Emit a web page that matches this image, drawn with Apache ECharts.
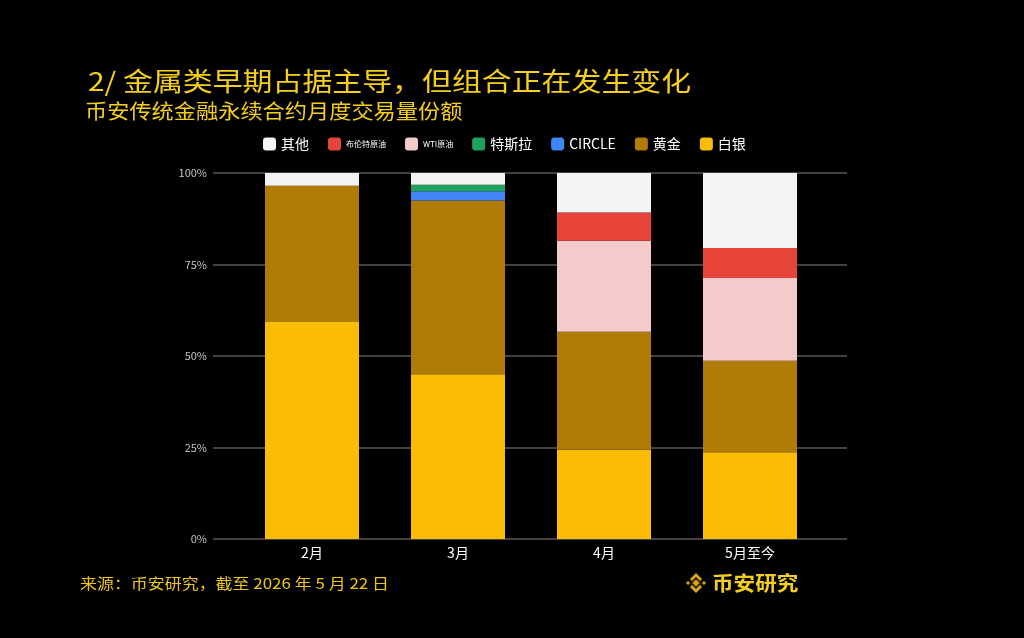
<!DOCTYPE html>
<html lang="zh">
<head>
    <meta charset="UTF-8">
    <script src="https://cdn.jsdelivr.net/npm/echarts@6/dist/echarts.min.js"></script>
    <title>币安传统金融永续合约月度交易量份额</title>
    <style>
        html, body { margin: 0; background: #000; }
        #myChart { width: 1024px; height: 638px; }
    </style>
</head>
<body>
    <div id="myChart"></div>
    <script>
        // data (share of monthly volume, %)
        var months = ['2月', '3月', '4月', '5月至今'];
        var silver = [59.3, 45.0, 24.4, 23.7];
        var gold = [37.2, 47.5, 32.2, 25.0];
        var circle = [0, 2.5, 0, 0];
        var tesla = [0, 1.8, 0, 0];
        var wti = [0, 0, 24.9, 22.6];
        var brent = [0, 0, 7.7, 8.2];
        var other = [3.5, 3.2, 10.8, 20.5];
        var yTicks = [0, 25, 50, 75, 100];

        var font = '"Noto Sans CJK SC", "Noto Sans", sans-serif';
        var yellow = '#F5CF1E';

        // bottom to top
        var stack = [
            { name: '白银', data: silver, color: '#FBBC04' },
            { name: '黄金', data: gold, color: '#B07C05' },
            { name: 'CIRCLE', data: circle, color: '#4285F4' },
            { name: '特斯拉', data: tesla, color: '#1EA25E' },
            { name: 'WTI原油', data: wti, color: '#F4CACA' },
            { name: '布伦特原油', data: brent, color: '#E8453A' },
            { name: '其他', data: other, color: '#F3F3F3' }
        ];

        var legendData = ['其他', '布伦特原油', 'WTI原油', '特斯拉', 'CIRCLE', '黄金', '白银'].map(function (n) {
            var tiny = (n === '布伦特原油' || n === 'WTI原油');
            return tiny ? { name: n, textStyle: { fontSize: 8 } } : { name: n };
        });

        var dom = document.getElementById('myChart');
        var myChart = echarts.init(dom);

        var option = {
            backgroundColor: '#000',
            animation: false,
            textStyle: { fontFamily: font },
            legend: {
                data: legendData,
                left: 258,
                top: 132,
                itemWidth: 13,
                itemHeight: 13,
                itemGap: 19,
                icon: 'roundRect',
                textStyle: { color: '#fff', fontSize: 14, fontFamily: font }
            },
            grid: [
                // wide grid only for the percent axis and gridlines
                { left: 213, right: 177, top: 173, bottom: 99 },
                // narrower grid holding the bars
                { left: 239, right: 201, top: 173, bottom: 99 }
            ],
            xAxis: [
                { type: 'value', gridIndex: 0, show: false, min: 0, max: 1 },
                {
                    type: 'category',
                    gridIndex: 1,
                    data: months,
                    axisLine: { show: false },
                    axisTick: { show: false },
                    axisLabel: { color: '#fff', fontSize: 14, margin: 7, fontFamily: font }
                }
            ],
            yAxis: [
                {
                    type: 'value',
                    gridIndex: 0,
                    min: yTicks[0],
                    max: yTicks[yTicks.length - 1],
                    interval: 25,
                    axisLine: { show: false },
                    axisTick: { show: false },
                    splitLine: { lineStyle: { color: '#575757', width: 1.5 } },
                    axisLabel: {
                        color: '#c4c4c4',
                        fontSize: 11,
                        margin: 6,
                        fontFamily: font,
                        formatter: '{value}%'
                    }
                },
                { type: 'value', gridIndex: 1, min: 0, max: 100, show: false }
            ],
            series: stack.map(function (s) {
                return {
                    name: s.name,
                    type: 'bar',
                    stack: 'share',
                    xAxisIndex: 1,
                    yAxisIndex: 1,
                    barWidth: 94,
                    data: s.data,
                    itemStyle: { color: s.color }
                };
            }),
            graphic: [
                {
                    type: 'text', x: 88, y: 81, scaleX: 1.15,
                    style: { text: '2/ 金属类早期占据主导，但组合正在发生变化', fill: yellow,
                        font: '26px ' + font, textVerticalAlign: 'middle' }
                },
                {
                    type: 'text', x: 85, y: 111, scaleX: 1.11,
                    style: { text: '币安传统金融永续合约月度交易量份额', fill: yellow,
                        font: '20px ' + font, textVerticalAlign: 'middle' }
                },
                {
                    type: 'text', x: 80, y: 583, scaleX: 1.13,
                    style: { text: '来源：币安研究，截至 2026 年 5 月 22 日', fill: '#EEC51C',
                        font: '15px ' + font, textVerticalAlign: 'middle' }
                },
                {
                    type: 'text', x: 712, y: 583, scaleX: 1.08,
                    style: { text: '币安研究', fill: yellow,
                        font: 'bold 20px ' + font, textVerticalAlign: 'middle' }
                },
                // small diamond logo
                {
                    type: 'group', x: 696, y: 583,
                    children: [
                        { type: 'polygon', shape: { points: [[0, -3.5], [3.5, 0], [0, 3.5], [-3.5, 0]] },
                          style: { fill: '#D9A520', shadowBlur: 6, shadowColor: '#F0B90B' } },
                        { type: 'polygon', shape: { points: [[-8, -2], [-6, 0], [-8, 2], [-10, 0]] },
                          style: { fill: '#D9A520' } },
                        { type: 'polygon', shape: { points: [[8, -2], [10, 0], [8, 2], [6, 0]] },
                          style: { fill: '#D9A520' } },
                        { type: 'polygon', shape: { points: [[0, -10], [6, -4], [4, -2], [0, -6], [-4, -2], [-6, -4]] },
                          style: { fill: '#D9A520' } },
                        { type: 'polygon', shape: { points: [[0, 10], [6, 4], [4, 2], [0, 6], [-4, 2], [-6, 4]] },
                          style: { fill: '#D9A520' } }
                    ]
                }
            ]
        };
        myChart.setOption(option);
    </script>
</body>
</html>
